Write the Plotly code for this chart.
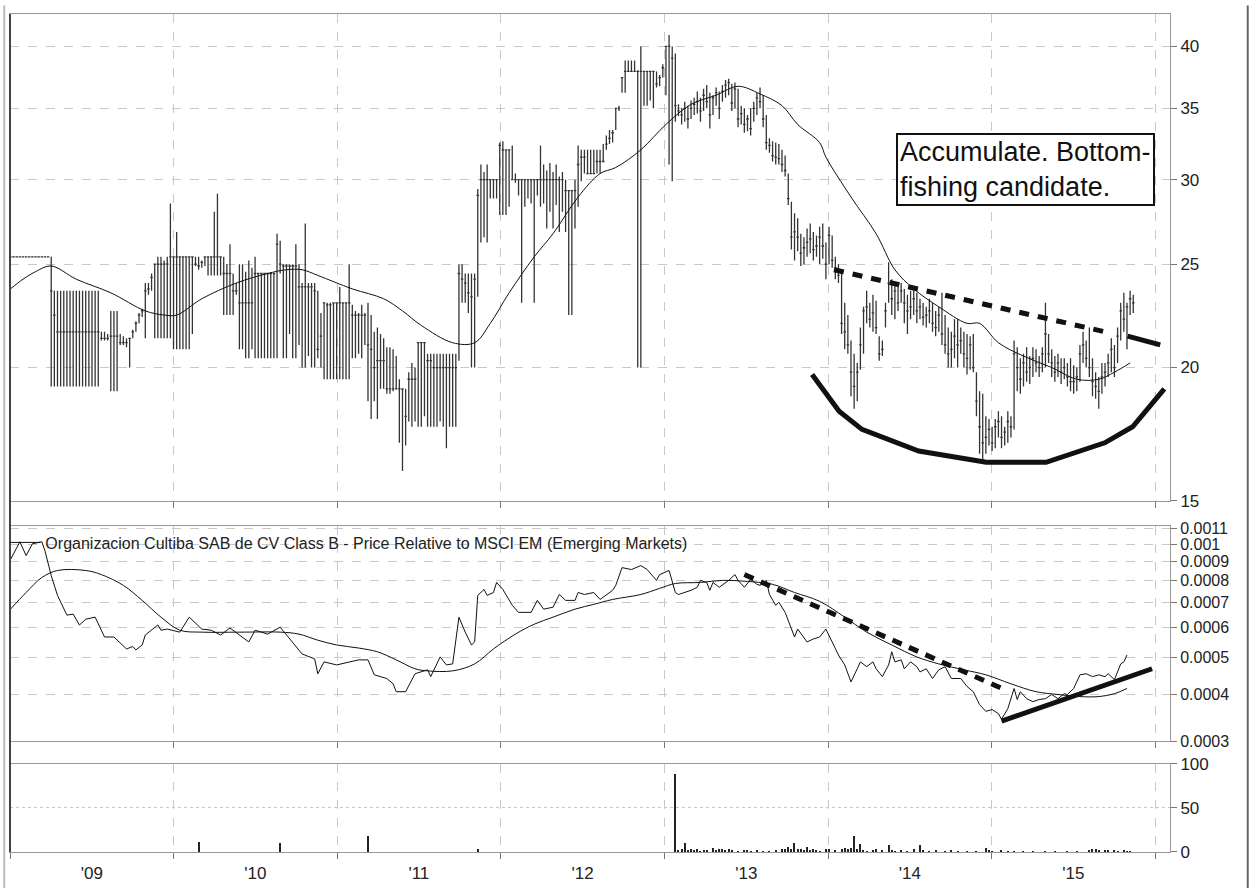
import numpy as np
import pandas as pd
import plotly.graph_objects as go

# weekly price bars, first bar = week of 2009-01-02
bar_high = [
    25.4, 25.4, 25.4, 25.4, 25.4, 25.4, 25.4, 25.4, 25.4, 25.4,
    25.4, 25.4, 25.4, 25.4, 23.6, 23.6, 23.6, 23.6, 23.6, 23.6,
    23.6, 23.6, 23.6, 23.6, 23.6, 23.6, 23.6, 23.6, 23.6, 21.6,
    21.6, 21.5, 22.6, 22.6, 22.6, 21.5, 21.4, 21.3, 21.3, 21.7,
    22.1, 22.5, 22.7, 24.0, 24.0, 24.5, 25.0, 25.4, 25.4, 25.2,
    25.4, 28.5, 25.4, 26.8, 25.4, 25.4, 25.4, 25.4, 25.4, 25.4,
    25.4, 25.2, 25.4, 25.4, 25.4, 28.0, 29.1, 25.4, 25.4, 25.0,
    26.1, 24.5, 24.0, 25.0, 25.0, 24.6, 25.2, 24.8, 25.4, 24.5,
    24.5, 24.5, 24.5, 24.5, 24.5, 26.7, 26.3, 25.0, 25.0, 25.0,
    25.0, 26.1, 25.0, 24.0, 27.3, 24.0, 24.0, 24.0, 23.6, 22.5,
    23.0, 23.0, 23.0, 23.0, 23.0, 23.8, 23.0, 23.0, 25.0, 22.9,
    22.6, 22.5, 22.9, 22.5, 23.0, 22.4, 21.6, 21.8, 21.5, 21.3,
    20.9, 20.9, 20.8, 20.5, 19.5, 19.1, 19.1, 19.8, 20.2, 20.0,
    21.1, 21.1, 21.1, 20.6, 20.6, 20.6, 20.6, 20.6, 20.6, 20.6,
    20.6, 20.6, 20.6, 25.0, 25.0, 24.5, 24.5, 24.5, 24.5, 29.4,
    31.0, 30.5, 31.0, 30.0, 30.0, 30.0, 32.5, 32.6, 32.0, 32.0,
    32.3, 30.4, 30.0, 30.0, 30.0, 30.0, 30.0, 30.0, 30.0, 32.3,
    31.0, 30.6, 31.1, 30.5, 31.0, 30.2, 30.5, 30.0, 29.3, 29.3,
    30.0, 32.3, 32.0, 32.0, 32.0, 32.0, 32.0, 32.0, 32.0, 32.4,
    33.0, 33.4, 33.4, 35.0, 35.2, 37.4, 38.8, 38.8, 38.8, 38.8,
    38.0, 40.0, 37.9, 37.9, 37.9, 37.9, 37.9, 37.6, 38.5, 40.0,
    41.0, 40.0, 39.4, 35.3, 35.0, 35.5, 35.2, 35.6, 35.8, 36.3,
    35.8, 36.5, 36.8, 36.2, 36.0, 36.6, 36.3, 36.8, 37.2, 37.3,
    36.9, 37.0, 36.5, 35.2, 35.0, 34.5, 35.0, 35.5, 36.2, 36.6,
    36.0, 34.5, 32.8, 32.6, 32.5, 32.4, 32.0, 31.6, 30.4, 28.6,
    27.9, 27.6, 26.7, 26.5, 27.0, 27.3, 26.8, 26.6, 27.1, 27.3,
    26.2, 27.1, 26.6, 25.4, 25.0, 24.6, 23.0, 22.4, 21.2, 20.6,
    20.2, 21.8, 22.8, 23.6, 23.0, 23.4, 23.1, 21.4, 21.2, 23.0,
    25.1, 24.2, 24.0, 23.8, 24.0, 23.7, 23.4, 23.6, 23.7, 23.5,
    23.2, 23.0, 22.8, 23.2, 23.0, 22.6, 22.8, 23.5, 22.4, 21.8,
    21.6, 22.2, 22.2, 21.8, 21.6, 21.5, 21.4, 21.5, 19.8, 19.0,
    18.9, 18.0, 17.9, 17.6, 17.9, 18.2, 18.0, 17.6, 18.2, 18.0,
    21.2, 20.9, 20.4, 20.6, 20.9, 20.5, 20.9, 20.8, 20.5, 20.9,
    23.0, 21.5, 20.8, 20.5, 20.6, 20.4, 20.4, 20.2, 20.4, 20.1,
    20.0, 21.0, 21.6, 21.2, 21.8, 20.4, 19.8, 19.6, 20.2, 20.2,
    20.6, 21.3, 21.0, 21.8, 23.0, 23.5, 23.0, 23.6, 23.4,
]
bar_low = [
    25.4, 25.4, 25.4, 25.4, 25.4, 25.4, 25.4, 25.4, 25.4, 25.4,
    25.4, 25.4, 25.4, 19.2, 19.2, 19.2, 19.2, 19.2, 19.2, 19.2,
    19.2, 19.2, 19.2, 19.2, 19.2, 19.2, 19.2, 19.2, 19.2, 21.2,
    21.2, 21.2, 19.0, 19.0, 19.0, 21.0, 21.0, 20.9, 20.0, 21.3,
    21.6, 22.0, 22.3, 21.3, 23.4, 23.6, 21.3, 21.3, 21.3, 21.3,
    21.3, 21.3, 20.8, 20.8, 20.8, 20.8, 20.8, 20.8, 21.5, 24.9,
    24.7, 24.8, 24.9, 24.4, 24.4, 24.4, 24.4, 24.4, 22.4, 22.4,
    22.4, 22.4, 23.4, 20.8, 20.8, 20.4, 20.4, 20.8, 20.4, 20.4,
    20.4, 20.4, 20.4, 20.4, 20.4, 20.4, 24.5, 20.4, 20.4, 21.5,
    20.4, 20.4, 21.0, 20.0, 20.0, 20.5, 20.0, 20.0, 20.4, 20.0,
    19.5, 19.5, 19.5, 19.5, 19.5, 19.5, 19.5, 19.5, 19.5, 20.4,
    20.4, 20.6, 20.4, 21.0, 18.6, 17.9, 18.6, 17.9, 19.1, 19.1,
    18.9, 18.9, 19.0, 19.1, 17.0, 16.0, 16.9, 17.8, 17.6, 17.8,
    17.6, 17.6, 18.0, 17.6, 17.6, 17.6, 17.6, 17.8, 17.6, 16.8,
    17.6, 17.6, 17.6, 20.3, 23.0, 23.0, 22.5, 20.0, 20.0, 23.3,
    26.2, 26.5, 26.2, 28.8, 28.8, 28.8, 27.8, 27.8, 27.8, 28.3,
    30.0, 29.8, 29.0, 23.0, 28.3, 28.8, 28.5, 23.0, 29.0, 28.3,
    28.5, 27.0, 28.0, 27.0, 28.4, 26.8, 28.0, 26.8, 22.4, 22.4,
    27.0, 28.3, 29.9, 30.4, 30.4, 30.4, 30.4, 30.4, 30.4, 31.2,
    32.0, 32.4, 32.5, 33.4, 34.8, 36.2, 36.2, 37.9, 37.9, 37.9,
    20.0, 20.0, 35.2, 35.2, 35.6, 35.0, 36.6, 36.7, 37.4, 36.0,
    31.0, 29.9, 34.0, 34.4, 33.8, 34.0, 33.5, 34.2, 34.5, 34.6,
    34.0, 34.8, 35.0, 33.5, 34.5, 35.2, 34.2, 35.5, 35.8, 36.0,
    34.8, 35.0, 33.6, 33.8, 33.2, 33.3, 33.0, 34.0, 34.5, 35.0,
    33.6, 32.0, 31.8, 31.2, 31.0, 31.0, 30.5, 30.2, 28.4, 25.8,
    25.2, 25.7, 24.9, 25.0, 25.4, 25.6, 25.2, 25.4, 25.0, 25.3,
    24.2, 25.0, 24.8, 24.2, 24.0, 21.5, 20.8, 20.6, 18.8, 18.3,
    18.6, 19.9, 20.6, 22.0, 21.8, 21.6, 21.5, 20.3, 20.5, 21.8,
    23.0, 22.4, 22.2, 22.6, 23.0, 22.0, 21.5, 22.2, 22.4, 22.0,
    22.2, 21.9, 21.8, 22.0, 21.6, 21.4, 21.6, 21.0, 20.6, 20.0,
    20.0, 20.4, 20.0, 20.6, 20.0, 19.7, 19.9, 19.8, 18.0, 16.6,
    16.3, 16.6, 16.9, 16.7, 16.8, 17.2, 16.8, 16.9, 17.0, 17.2,
    17.5, 19.0, 18.9, 19.2, 19.4, 19.3, 19.6, 19.8, 19.6, 19.8,
    20.0, 20.2, 19.6, 19.4, 19.6, 19.3, 19.5, 19.2, 19.0, 18.9,
    19.0, 19.4, 20.2, 20.0, 19.6, 18.8, 18.7, 18.3, 18.9, 19.2,
    19.6, 19.8, 19.6, 20.2, 21.2, 21.6, 20.8, 22.4, 22.5,
]
bar_close = [
    25.4, 25.4, 25.4, 25.4, 25.4, 25.4, 25.4, 25.4, 25.4, 25.4,
    25.4, 25.4, 25.4, 23.6, 22.4, 21.6, 21.6, 21.6, 21.6, 21.6,
    21.6, 21.6, 21.6, 21.6, 21.6, 21.6, 21.6, 21.6, 21.6, 21.3,
    21.3, 21.3, 21.4, 21.4, 21.4, 21.1, 21.1, 21.1, 21.3, 21.6,
    22.0, 22.4, 22.6, 23.6, 23.7, 24.3, 25.0, 25.0, 25.0, 25.0,
    25.0, 25.4, 25.4, 25.4, 25.4, 25.4, 25.4, 25.4, 25.4, 25.0,
    24.9, 25.1, 25.4, 25.4, 25.4, 25.4, 25.4, 25.4, 24.5, 24.5,
    24.5, 23.6, 23.6, 23.0, 23.0, 23.0, 23.0, 23.0, 24.5, 24.5,
    24.5, 24.5, 24.5, 24.5, 24.5, 26.1, 25.0, 24.9, 24.9, 24.9,
    24.9, 24.9, 23.8, 23.8, 23.8, 23.8, 23.8, 23.6, 20.8, 21.4,
    23.0, 22.9, 22.9, 23.0, 23.0, 23.0, 23.0, 23.0, 23.0, 22.4,
    22.4, 22.4, 22.4, 22.4, 21.0, 20.8, 20.0, 20.3, 20.3, 20.3,
    19.1, 19.1, 19.1, 19.1, 19.1, 19.1, 18.0, 19.5, 19.5, 19.5,
    21.1, 21.1, 21.1, 20.3, 20.3, 20.0, 20.0, 20.0, 20.0, 20.0,
    20.0, 20.0, 20.0, 24.5, 24.2, 24.0, 23.5, 23.3, 24.2, 29.0,
    30.0, 30.0, 30.0, 30.0, 30.0, 30.0, 32.3, 32.0, 32.0, 32.0,
    30.0, 30.0, 30.0, 30.0, 30.0, 30.0, 30.0, 30.0, 30.0, 30.0,
    30.0, 30.0, 30.0, 30.0, 30.0, 30.0, 30.0, 29.3, 29.3, 29.3,
    29.3, 31.0, 31.5, 31.5, 30.4, 30.4, 30.4, 31.2, 31.2, 31.2,
    32.4, 32.8, 33.2, 35.0, 35.0, 37.4, 37.9, 37.9, 37.9, 37.9,
    37.9, 37.9, 37.9, 37.9, 37.9, 37.9, 36.9, 37.4, 38.2, 40.0,
    40.0, 39.0, 35.2, 34.8, 34.5, 35.0, 34.2, 35.0, 35.3, 35.5,
    34.8, 36.0, 35.5, 34.5, 35.8, 36.2, 35.0, 36.3, 36.8, 37.0,
    35.4, 36.5, 34.2, 34.6, 33.8, 34.2, 33.5, 35.0, 35.8, 35.5,
    34.2, 32.5, 32.3, 31.6, 31.5, 31.4, 31.0, 30.6, 28.8, 26.5,
    26.8, 26.5, 25.6, 25.9, 26.2, 26.4, 25.8, 26.0, 26.5, 26.0,
    25.0, 26.6, 25.2, 24.8, 24.4, 22.0, 21.6, 21.0, 19.8, 19.2,
    19.8, 21.0, 22.6, 22.8, 22.2, 22.5, 21.8, 20.6, 20.8, 22.6,
    24.0, 23.2, 23.6, 23.0, 23.6, 23.0, 22.6, 22.8, 23.2, 22.6,
    22.8, 22.3, 22.4, 22.6, 22.0, 21.8, 22.4, 21.5, 21.0, 20.6,
    20.8, 21.4, 21.0, 21.2, 20.6, 20.4, 21.0, 20.0, 18.6, 17.6,
    17.0, 17.2, 17.5, 17.0, 17.6, 17.8, 17.2, 17.4, 17.8, 17.6,
    20.6, 20.0, 19.5, 20.2, 19.8, 20.0, 20.4, 20.2, 20.0, 20.6,
    21.5, 20.6, 20.2, 19.8, 20.2, 19.8, 20.0, 19.6, 19.4, 19.4,
    19.6, 20.6, 21.0, 20.4, 20.0, 19.4, 19.2, 19.0, 19.6, 19.8,
    20.2, 20.8, 20.0, 21.4, 22.6, 22.2, 22.8, 23.2, 23.0,
]

# moving average of price (week index, value)
ma_week = [0, 4, 8, 13, 21, 32, 43, 49, 53, 61, 72, 82, 88, 93, 98, 109, 119, 125, 131, 141,
           148, 153, 159, 167, 173, 181, 188, 193, 201, 209, 217, 225, 232, 239, 246, 251, 258, 260, 268, 276,
           282, 288, 296, 305, 309, 315, 323, 332, 340, 347, 352, 357]
ma_value = [23.7, 24.2, 24.6, 24.9, 24.2, 23.5, 22.6, 22.4, 22.4, 23.2, 24.0, 24.5, 24.7, 24.7, 24.4, 23.7, 23.2, 22.6, 21.9, 21.1,
            21.1, 22.0, 23.5, 25.4, 26.7, 28.9, 30.4, 30.8, 32.0, 33.8, 35.3, 36.0, 36.7, 36.1, 35.2, 33.8, 32.5, 31.5, 28.9, 26.7,
            24.7, 23.7, 22.8, 22.0, 22.0, 21.1, 20.5, 20.0, 19.5, 19.5, 19.8, 20.2]

# price relative to MSCI EM
rel_week = [0, 3, 5, 7, 10, 11, 13, 15, 18, 20,
            22, 24, 27, 30, 33, 37, 39, 40, 42, 43,
            47, 48, 50, 54, 57, 61, 64, 67, 70, 73,
            76, 78, 82, 86, 88, 93, 97, 98, 100, 104,
            111, 114, 116, 120, 122, 123, 126, 129, 133, 134,
            137, 139, 141, 143, 145, 147, 148, 149, 151, 152,
            154, 155, 157, 160, 162, 166, 168, 170, 173, 175,
            177, 180, 181, 183, 186, 188, 192, 193, 195, 198,
            201, 203, 206, 207, 210, 212, 213, 215, 217, 219,
            220, 222, 223, 224, 226, 229, 231, 232, 234, 236,
            238, 239, 241, 242, 244, 245, 247, 250, 251, 254,
            256, 258, 260, 262, 264, 266, 268, 270, 271, 273,
            275, 276, 278, 280, 281, 282, 284, 285, 287, 289,
            290, 292, 294, 296, 298, 300, 303, 305, 307, 309,
            311, 313, 315, 316, 318, 320, 321, 322, 324, 326,
            328, 330, 332, 334, 336, 337, 339, 341, 343, 345,
            347, 349, 350, 352, 354, 355, 356]
rel_value = [0.000909, 0.001014, 0.000932, 0.001002, 0.001014, 0.00096, 0.000825, 0.000731, 0.000648, 0.000652,
             0.00061, 0.000632, 0.00064, 0.000567, 0.000567, 0.000527, 0.000535, 0.000524, 0.00054, 0.000574,
             0.00061, 0.000591, 0.000595, 0.000584, 0.00064, 0.000595, 0.000591, 0.000574, 0.000599, 0.000574,
             0.00055, 0.000591, 0.000577, 0.000602, 0.000574, 0.000511, 0.000496, 0.000453, 0.000487, 0.000478,
             0.000493, 0.000493, 0.00045, 0.00044, 0.000426, 0.000406, 0.000406, 0.000453, 0.000464, 0.000445,
             0.000502, 0.000478, 0.000481, 0.00064, 0.000584, 0.00054, 0.00055, 0.000731, 0.000758, 0.000731,
             0.000744, 0.000791, 0.000758, 0.000688, 0.000659, 0.000659, 0.000709, 0.000672, 0.00068, 0.000735,
             0.000709, 0.000709, 0.000744, 0.000735, 0.000744, 0.000713, 0.000754, 0.000777, 0.000866, 0.000856,
             0.000877, 0.000856, 0.000801, 0.00083, 0.000851, 0.000744, 0.000735, 0.000744, 0.000754, 0.000768,
             0.000801, 0.000791, 0.000754, 0.000791, 0.000768, 0.000801, 0.00083, 0.000801, 0.000768, 0.000806,
             0.000782, 0.000777, 0.000801, 0.000735, 0.000688, 0.000701, 0.000659, 0.000567, 0.000595, 0.00055,
             0.00056, 0.000567, 0.000595, 0.00055, 0.000508, 0.000478, 0.000431, 0.000467, 0.000487, 0.000473,
             0.000487, 0.000467, 0.000445, 0.000478, 0.000518, 0.000487, 0.000493, 0.000467, 0.000487, 0.000473,
             0.000458, 0.000467, 0.00044, 0.000464, 0.000473, 0.00044, 0.00044, 0.000419, 0.000406, 0.000375,
             0.00036, 0.000364, 0.000355, 0.000343, 0.000366, 0.000414, 0.000387, 0.000406, 0.000389, 0.000382,
             0.000387, 0.000389, 0.000399, 0.000389, 0.000401, 0.000399, 0.000414, 0.00045, 0.000453, 0.000445,
             0.00045, 0.000445, 0.000453, 0.000437, 0.000481, 0.000487, 0.000508]

rma_week = [0, 5, 10, 15, 24, 29, 36, 42, 48, 54,
            61, 73, 86, 92, 98, 104, 111, 117, 123, 129,
            133, 141, 148, 154, 161, 167, 173, 180, 186, 192,
            201, 207, 212, 220, 227, 235, 243, 250, 258, 266,
            273, 281, 289, 296, 304, 311, 319, 327, 334, 341,
            347, 352, 356]
rma_value = [0.000672, 0.000744, 0.000815, 0.000851, 0.000851, 0.00083, 0.000777, 0.000709, 0.00064, 0.000591,
             0.000584, 0.000584, 0.000584, 0.000577, 0.000556, 0.00054, 0.00053, 0.000518, 0.000493, 0.000467,
             0.000461, 0.000461, 0.000481, 0.000527, 0.000577, 0.000613, 0.00064, 0.000672, 0.000692, 0.000713,
             0.000735, 0.000763, 0.000786, 0.000791, 0.000801, 0.000796, 0.000782, 0.000744, 0.000705, 0.00064,
             0.000584, 0.00054, 0.000502, 0.000481, 0.000464, 0.00045, 0.000426, 0.000406, 0.000399, 0.000394,
             0.000394, 0.000401, 0.000414]

# weekly volume (weeks with no visible bar are left out)
vol_week = [60, 86, 114, 149, 212, 213, 214, 215, 216, 217, 218, 219, 220, 221, 222, 224, 225, 226, 227, 228,
            229, 230, 232, 234, 235, 236, 238, 240, 242, 244, 246, 247, 248, 249, 250, 251, 252, 253, 254, 255,
            256, 257, 258, 260, 261, 263, 265, 266, 267, 268, 269, 270, 271, 272, 273, 275, 276, 278, 280, 281,
            282, 284, 286, 288, 290, 291, 293, 295, 298, 300, 302, 305, 308, 311, 312, 313, 316, 318, 320, 323,
            326, 330, 333, 337, 340, 344, 345, 346, 347, 349, 350, 352, 353, 355, 356, 357]
vol_value = [11, 10, 18, 3, 89, 2, 3, 10, 2, 3, 2, 3, 1, 2, 2, 5, 2, 4, 3, 2,
             3, 2, 1, 2, 2, 1, 2, 1, 1, 2, 3, 4, 6, 3, 10, 3, 4, 2, 6, 2,
             3, 2, 1, 4, 4, 2, 4, 5, 3, 5, 18, 3, 9, 2, 1, 2, 3, 2, 8, 2,
             1, 2, 1, 3, 8, 2, 1, 2, 1, 2, 1, 1, 1, 5, 2, 1, 2, 1, 1, 1,
             1, 1, 1, 1, 1, 2, 3, 3, 2, 2, 2, 2, 1, 2, 1, 1]

# hand-drawn annotation lines
price_dash_week = [262.6, 349.0]
price_dash_value = [24.7, 21.6]
price_trend_week = [356.2, 366.6]
price_trend_value = [21.4, 21.0]
bowl_week = [255.6, 264.2, 271.5, 289.6, 311.1, 330.2, 348.9, 357.8, 367.9]
bowl_value = [19.7, 18.2, 17.5, 16.7, 16.3, 16.3, 17.0, 17.6, 19.1]
rel_dash_week = [234, 317]
rel_dash_value = [0.00083, 0.000411]
rel_trend_week = [316, 364]
rel_trend_value = [0.000339, 0.000467]

price_ticks = [15, 20, 25, 30, 35, 40]
rel_ticks = [0.0003, 0.0004, 0.0005, 0.0006, 0.0007, 0.0008, 0.0009, 0.001, 0.0011]
rel_labels = ['0.0003', '0.0004', '0.0005', '0.0006', '0.0007', '0.0008', '0.0009', '0.001', '0.0011']
vol_ticks = [0, 50, 100]

start = pd.Timestamp('2009-01-02')
weeks = pd.date_range(start, periods=len(bar_close), freq='7D')


def week_date(w):
    return [start + pd.Timedelta(days=7 * v) for v in w]


INK = '#111111'
FONT = 'Liberation Sans, Arial, sans-serif'

fig = go.Figure()

fig.add_trace(go.Ohlc(x=weeks, open=bar_close, high=bar_high, low=bar_low, close=bar_close,
                      increasing_line_color='#333333', decreasing_line_color='#333333',
                      line_width=1.3, tickwidth=0.4, showlegend=False, hoverinfo='skip',
                      xaxis='x', yaxis='y'))
fig.add_trace(go.Scatter(x=week_date(ma_week), y=ma_value, mode='lines',
                         line=dict(color=INK, width=1, shape='spline'), showlegend=False,
                         xaxis='x', yaxis='y'))
fig.add_trace(go.Scatter(x=week_date(price_dash_week), y=price_dash_value, mode='lines',
                         line=dict(color=INK, width=5, dash='10px,9px'), showlegend=False,
                         xaxis='x', yaxis='y'))
fig.add_trace(go.Scatter(x=week_date(price_trend_week), y=price_trend_value, mode='lines',
                         line=dict(color=INK, width=5), showlegend=False, xaxis='x', yaxis='y'))
fig.add_trace(go.Scatter(x=week_date(bowl_week), y=bowl_value, mode='lines',
                         line=dict(color=INK, width=5), showlegend=False, xaxis='x', yaxis='y'))

fig.add_trace(go.Scatter(x=week_date(rel_week), y=rel_value, mode='lines',
                         line=dict(color=INK, width=1),
                         name='Organizacion Cultiba SAB de CV Class B - Price Relative to MSCI EM (Emerging Markets)',
                         xaxis='x2', yaxis='y2'))
fig.add_trace(go.Scatter(x=week_date(rma_week), y=rma_value, mode='lines',
                         line=dict(color=INK, width=1, shape='spline'), showlegend=False,
                         xaxis='x2', yaxis='y2'))
fig.add_trace(go.Scatter(x=week_date(rel_dash_week), y=rel_dash_value, mode='lines',
                         line=dict(color=INK, width=5, dash='10px,8px'), showlegend=False,
                         xaxis='x2', yaxis='y2'))
fig.add_trace(go.Scatter(x=week_date(rel_trend_week), y=rel_trend_value, mode='lines',
                         line=dict(color=INK, width=5), showlegend=False, xaxis='x2', yaxis='y2'))

fig.add_trace(go.Bar(x=week_date(vol_week), y=vol_value, marker_color='#222222', marker_line_width=0,
                     width=2.2e8, showlegend=False, xaxis='x3', yaxis='y3'))

xstyle = dict(type='date', range=['2009-01-01', '2016-02-03'], dtick='M12', tick0='2009-01-01',
              ticklabelmode='period', tickformat="'%y", showgrid=True, gridcolor='#c8c8c8',
              griddash='dash', gridwidth=1, ticks='outside', ticklen=6, tickcolor='#777777',
              showline=True, linecolor='#999999', linewidth=1, mirror=True, zeroline=False,
              tickfont=dict(size=17, color='#222222'))
ystyle = dict(side='right', showgrid=True, gridcolor='#c8c8c8', griddash='dash', gridwidth=1,
              ticks='outside', ticklen=6, tickcolor='#777777', showline=True, linecolor='#999999',
              linewidth=1, mirror=True, zeroline=False, tickfont=dict(size=17, color='#222222'))

fig.update_layout(
    width=1249, height=888, autosize=False,
    margin=dict(l=7, r=79, t=5, b=36),
    paper_bgcolor='white', plot_bgcolor='white',
    font=dict(family=FONT, color='#222222'),
    bargap=0,
    xaxis=dict(xstyle, anchor='y', showticklabels=False, rangeslider=dict(visible=False)),
    xaxis2=dict(xstyle, anchor='y2', matches='x', showticklabels=False),
    xaxis3=dict(xstyle, anchor='y3', matches='x', showticklabels=True),
    yaxis=dict(ystyle, type='log', domain=[0.4191, 1.0], anchor='x',
               range=[np.log10(15), np.log10(42.9)], tickvals=price_ticks),
    yaxis2=dict(ystyle, type='log', domain=[0.1322, 0.3896], anchor='x2',
                range=[np.log10(0.0003), np.log10(0.00112)], tickvals=rel_ticks, ticktext=rel_labels,
                tickfont=dict(size=16, color='#222222')),
    yaxis3=dict(ystyle, domain=[0.0, 0.1051], anchor='x3', range=[0, 100], tickvals=vol_ticks,
                griddash='dot'),
    legend=dict(x=-0.004, y=0.3896, xanchor='left', yanchor='top', bgcolor='rgba(0,0,0,0)',
                font=dict(size=16, color='#222222'), itemwidth=30, borderwidth=0),
    showlegend=True,
)

fig.add_annotation(x=week_date([323.5])[0], y=np.log10(30.7), xref='x', yref='y',
                   text='Accumulate. Bottom-<br>fishing candidate.', showarrow=False, align='left',
                   font=dict(size=27, color=INK, family=FONT), bordercolor=INK, borderwidth=2,
                   borderpad=2, bgcolor='white', xanchor='center', yanchor='middle')

# outer frame lines
fig.add_shape(type='line', xref='paper', yref='paper', x0=0, x1=0, y0=0, y1=1,
              line=dict(color='#444444', width=2))
fig.add_shape(type='line', xref='paper', yref='paper', x0=-0.005, x1=-0.005, y0=-0.05, y1=1.01,
              line=dict(color='#bbbbbb', width=2))
fig.add_shape(type='line', xref='paper', yref='paper', x0=1.067, x1=1.067, y0=-0.05, y1=1.01,
              line=dict(color='#666666', width=2))

fig.write_html("out.html", config={'displayModeBar': False},
               post_script="document.body.style.margin='0';")
